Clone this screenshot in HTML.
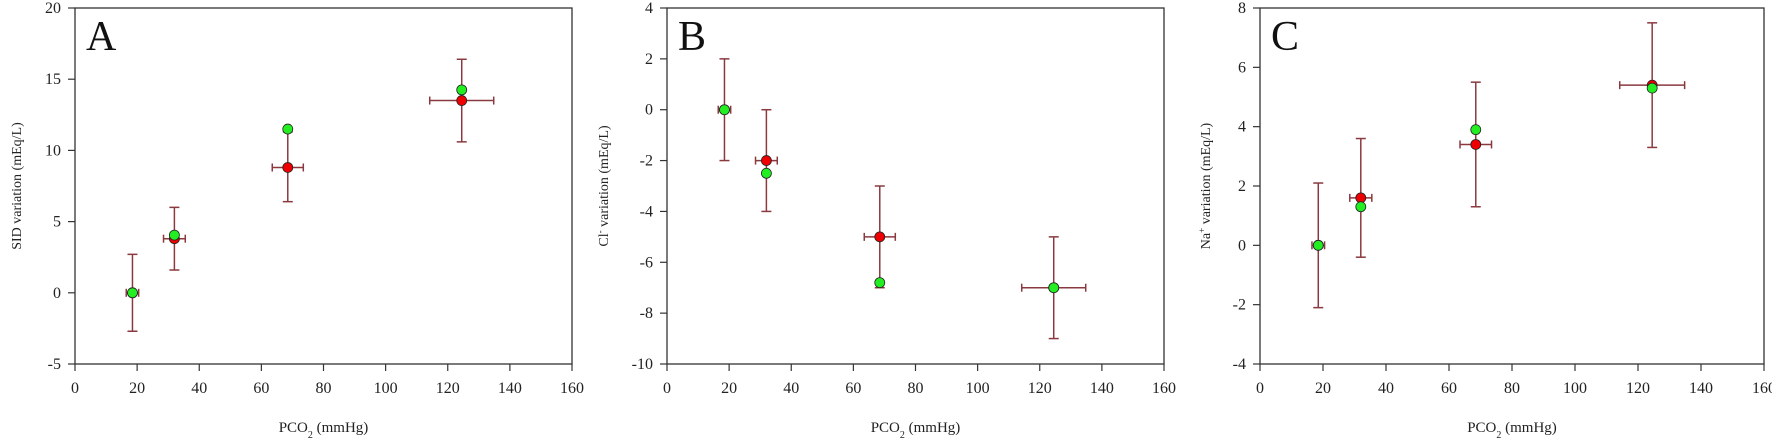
<!DOCTYPE html>
<html><head><meta charset="utf-8"><style>
html,body{margin:0;padding:0;background:#fff;}
svg{display:block;font-family:"Liberation Serif",serif;}
</style></head><body>
<svg id="s" width="1772" height="442" xmlns="http://www.w3.org/2000/svg"></svg>
<script>
const S=document.getElementById('s');
let out='';
const panels=[
 {L:75,R:572,T:8,B:364,ymin:-5,ymax:20,ystep:5,letter:'A',ylab:'SID variation (mEq/L)',ylx:16,
  pts:[[18.5,0,2,-2.7,2.7,0],[32,3.8,3.5,1.6,6.0,4.05],[68.5,8.8,5,6.4,11.3,11.5],[124.5,13.5,10.3,10.6,16.4,14.25]]},
 {L:667,R:1164,T:8,B:364,ymin:-10,ymax:4,ystep:2,letter:'B',ylab:'Cl<tspan baseline-shift="super" font-size="9">-</tspan> variation (mEq/L)',ylx:603,
  pts:[[18.5,0,2,-2,2,0],[32,-2,3.5,-4,0,-2.5],[68.5,-5,5,-7,-3,-6.8],[124.5,-7,10.3,-9,-5,-7]]},
 {L:1260,R:1764,T:8,B:364,ymin:-4,ymax:8,ystep:2,letter:'C',ylab:'Na<tspan baseline-shift="super" font-size="9">+</tspan> variation (mEq/L)',ylx:1205,
  pts:[[18.5,0,2,-2.1,2.1,0],[32,1.6,3.5,-0.4,3.6,1.3],[68.5,3.4,5,1.3,5.5,3.9],[124.5,5.4,10.3,3.3,7.5,5.3]]}
];
const ec='#8a3a3f';
for(const p of panels){
 const X=v=>p.L+(p.R-p.L)*v/160, Y=v=>p.B-(p.B-p.T)*(v-p.ymin)/(p.ymax-p.ymin);
 out+=`<rect x="${p.L}" y="${p.T}" width="${p.R-p.L}" height="${p.B-p.T}" fill="none" stroke="#333" stroke-width="1.3"/>`;
 for(let v=0;v<=160;v+=20){const x=X(v);out+=`<line x1="${x}" y1="${p.B}" x2="${x}" y2="${p.B+7}" stroke="#333" stroke-width="1.2"/><text x="${x}" y="393" font-size="16" text-anchor="middle" fill="#222">${v}</text>`;}
 for(let v=p.ymin;v<=p.ymax+1e-9;v+=p.ystep){const y=Y(v);out+=`<line x1="${p.L-7}" y1="${y}" x2="${p.L}" y2="${y}" stroke="#333" stroke-width="1.2"/><text x="${p.L-14}" y="${y+5}" font-size="16" text-anchor="end" fill="#222">${v}</text>`;}
 out+=`<text x="${p.L+11}" y="50" font-size="42" fill="#111">${p.letter}</text>`;
 out+=`<text x="${(p.L+p.R)/2}" y="432" font-size="15" text-anchor="middle" fill="#222">PCO<tspan baseline-shift="sub" font-size="10">2</tspan> (mmHg)</text>`;
 out+=`<text transform="translate(${p.ylx+5},${(p.T+p.B)/2}) rotate(-90)" font-size="14" text-anchor="middle" fill="#222">${p.ylab}</text>`;
 for(const [x,y,xe,y1,y2,g] of p.pts){
  const cx=X(x),cy=Y(y),xa=X(x-xe),xb=X(x+xe),ya=Y(y1),yb=Y(y2);
  out+=`<g stroke="${ec}" stroke-width="1.5"><line x1="${xa}" y1="${cy}" x2="${xb}" y2="${cy}"/><line x1="${xa}" y1="${cy-4}" x2="${xa}" y2="${cy+4}"/><line x1="${xb}" y1="${cy-4}" x2="${xb}" y2="${cy+4}"/>`+
   `<line x1="${cx}" y1="${ya}" x2="${cx}" y2="${yb}"/><line x1="${cx-5}" y1="${ya}" x2="${cx+5}" y2="${ya}"/><line x1="${cx-5}" y1="${yb}" x2="${cx+5}" y2="${yb}"/></g>`;
  out+=`<circle cx="${cx}" cy="${cy}" r="5" fill="#ee0000" stroke="#222" stroke-width="0.8"/>`;
  out+=`<circle cx="${cx}" cy="${Y(g)}" r="5" fill="#22ee22" stroke="#222" stroke-width="0.8"/>`;
 }
}
S.innerHTML=out;
</script>
</body></html>
